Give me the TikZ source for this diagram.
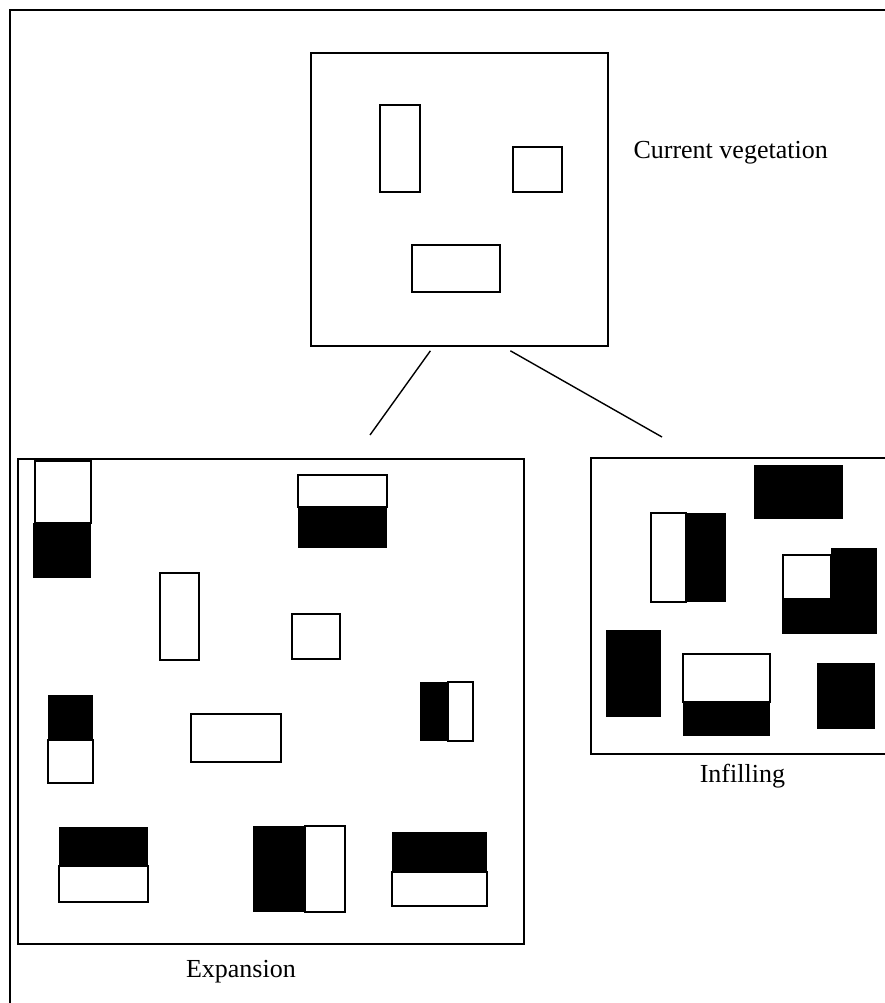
\documentclass[tikz,border=0pt]{standalone}
\usepackage{fontspec}
\setmainfont{Liberation Serif}
\usetikzlibrary{positioning}

\begin{document}
\begin{tikzpicture}[
  x=1pt, y=-1pt,
  every node/.style={font=\fontsize{26}{31}\selectfont},
  frame/.style={line width=1.5pt},
  panel/.style={
    rectangle, draw, line width=1.8pt,
    anchor=north west, inner sep=0pt
  },
  patch/.style={draw, line width=1.8pt, fill=white},
  lost/.style={fill=black},
  link/.style={line width=1.4pt}
]
\useasboundingbox (0,0) rectangle (885,1003);

% ---- Page frame (top and left only) ----
\draw[frame] (885,10) -- (10,10) -- (10,1003);

% ---- Current vegetation (top) ----
\node[panel, minimum width=297pt, minimum height=293pt]
  (current) at (310,52) {};
\draw[patch] (380,105) rectangle (420,192);
\draw[patch] (513,147) rectangle (562,192);
\draw[patch] (412,245) rectangle (500,292);
\node[anchor=west] (curlabel) at (630,153) {Current vegetation};

% ---- Expansion (bottom left) ----
\node[panel, minimum width=506pt, minimum height=485pt]
  (expansion) at (17,458) {};
\fill[lost] (33,523) rectangle (91,578);
\draw[patch] (35,461) rectangle (91,523);
\fill[lost] (298,507) rectangle (387,548);
\draw[patch] (298,475) rectangle (387,507);
\draw[patch] (160,573) rectangle (199,660);
\draw[patch] (292,614) rectangle (340,659);
\fill[lost] (48,695) rectangle (93,740);
\draw[patch] (48,740) rectangle (93,783);
\draw[patch] (191,714) rectangle (281,762);
\fill[lost] (420,682) rectangle (448,741);
\draw[patch] (448,682) rectangle (473,741);
\fill[lost] (59,827) rectangle (148,866);
\draw[patch] (59,866) rectangle (148,902);
\fill[lost] (253,826) rectangle (305,912);
\draw[patch] (305,826) rectangle (345,912);
\fill[lost] (392,832) rectangle (487,872);
\draw[patch] (392,872) rectangle (487,906);
\node[below=12pt of expansion.south, xshift=-30pt] (explabel) {Expansion};

% ---- Infilling (bottom right) ----
\node[panel, minimum width=295pt, minimum height=296pt]
  (infilling) at (590,457) {};
\fill[lost] (754,465) rectangle (843,519);
\fill[lost] (686,513) rectangle (726,602);
\draw[patch] (651,513) rectangle (686,602);
\fill[lost] (831,548) rectangle (877,634);
\fill[lost] (782,599) rectangle (877,634);
\draw[patch] (783,555) rectangle (831,599);
\fill[lost] (606,630) rectangle (661,717);
\fill[lost] (683,702) rectangle (770,736);
\draw[patch] (683,654) rectangle (770,702);
\fill[lost] (817,663) rectangle (875,729);
\node[below=6pt of infilling.south, xshift=4pt] (inflabel) {Infilling};

% ---- Links from current vegetation ----
\coordinate (expend) at (370,435);
\coordinate (infend) at (662,437);
\draw[link] ([xshift=-29pt, yshift=-4pt]current.south) -- (expend);
\draw[link] ([xshift=51pt, yshift=-4pt]current.south) -- (infend);

\end{tikzpicture}
\end{document}
